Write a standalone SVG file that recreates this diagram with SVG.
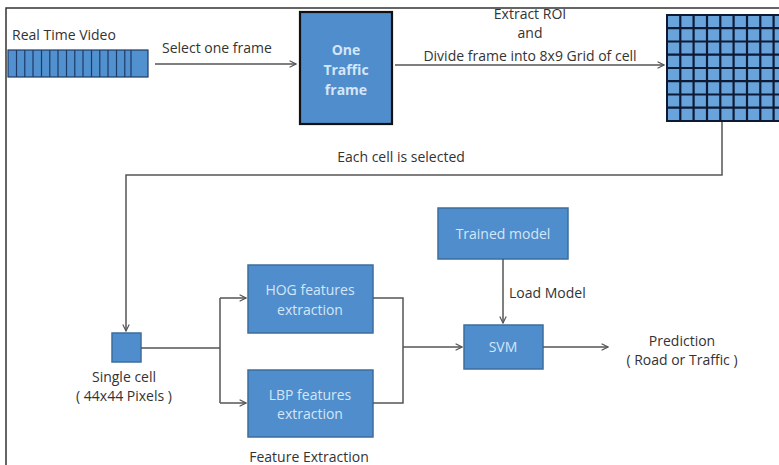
<svg xmlns="http://www.w3.org/2000/svg" width="779" height="465" viewBox="0 0 779 465">
  <style>
    .lbl { font-family: "Open Sans", "Liberation Sans", sans-serif; font-size: 14px; fill: #333; }
    .box { fill: #4f8dcc; stroke: #3d6e9f; stroke-width: 1.5; }
    .boxtxt { font-family: "Open Sans", "Liberation Sans", sans-serif; font-size: 14px; fill: #d4e6f7; text-anchor: middle; }
    .wire { fill: none; stroke: #555; stroke-width: 1.5; }
    .mid { text-anchor: middle; }
  </style>
  <defs>
    <marker id="arrow" viewBox="0 0 10 10" refX="9" refY="5" markerWidth="8" markerHeight="8" orient="auto" markerUnits="userSpaceOnUse">
      <path d="M1,1 L9,5 L1,9" fill="none" stroke="#555" stroke-width="1.5"/>
    </marker>
  </defs>

  <rect width="779" height="465" fill="#fff"/>
  <!-- outer frame -->
  <path d="M6,465 V8 H779" fill="none" stroke="#333" stroke-width="1.5"/>

  <g id="video">
    <text class="lbl" x="12" y="40">Real Time Video</text>
    <rect x="8" y="50" width="140" height="27" fill="#5291d0" stroke="#1f3a66" stroke-width="1.2"/>
    <path d="M16.5,50V77M24.8,50V77M33,50V77M41.5,50V77M49.8,50V77M58,50V77M66.5,50V77M74.8,50V77M83,50V77M91.5,50V77M99.8,50V77M108,50V77M116.5,50V77M124.8,50V77M131,50V77" stroke="#1f3a66" stroke-width="1.2"/>
  </g>

  <g id="frame">
    <rect x="300" y="12" width="92" height="112" fill="#4f8dcc" stroke="#111" stroke-width="2.2"/>
    <text class="boxtxt" x="346" y="55" font-weight="bold">One</text>
    <text class="boxtxt" x="346" y="75" font-weight="bold">Traffic</text>
    <text class="boxtxt" x="346" y="95" font-weight="bold">frame</text>
  </g>

  <g id="grid">
    <rect x="667" y="15" width="120" height="106" fill="#69a3dc" stroke="#0e1a33" stroke-width="2"/>
    <path d="M680.3,15V121M693.6,15V121M707,15V121M720.3,15V121M733.6,15V121M747,15V121M760.3,15V121M773.6,15V121" stroke="#0e1a33" stroke-width="2.2"/>
    <path d="M667,28.2H779M667,41.5H779M667,54.7H779M667,68H779M667,81.2H779M667,94.5H779M667,107.7H779" stroke="#0e1a33" stroke-width="2.2"/>
  </g>

  <g id="cell">
    <rect x="112" y="333" width="29" height="29" class="box"/>
    <text class="lbl mid" x="124" y="382">Single cell</text>
    <text class="lbl mid" x="124" y="401">( 44x44 Pixels )</text>
  </g>

  <g id="hog">
    <rect x="248" y="265" width="125" height="68" class="box"/>
    <text class="boxtxt" x="310" y="295">HOG features</text>
    <text class="boxtxt" x="310" y="315">extraction</text>
  </g>

  <g id="lbp">
    <rect x="248" y="370" width="125" height="67" class="box"/>
    <text class="boxtxt" x="310" y="400">LBP features</text>
    <text class="boxtxt" x="310" y="419">extraction</text>
  </g>

  <g id="trained">
    <rect x="438" y="208" width="130" height="51" class="box"/>
    <text class="boxtxt" x="503" y="239">Trained model</text>
  </g>

  <g id="svm">
    <rect x="464" y="325" width="79" height="44" class="box"/>
    <text class="boxtxt" x="503" y="352">SVM</text>
  </g>

  <g id="labels">
    <text class="lbl" x="162" y="53">Select one frame</text>
    <text class="lbl mid" x="530" y="19">Extract ROI</text>
    <text class="lbl mid" x="530" y="38">and</text>
    <text class="lbl mid" x="530" y="61">Divide frame into 8x9 Grid of cell</text>
    <text class="lbl mid" x="401" y="162">Each cell is selected</text>
    <text class="lbl" x="509" y="298">Load Model</text>
    <text class="lbl mid" x="682" y="346">Prediction</text>
    <text class="lbl mid" x="682" y="365">( Road or Traffic )</text>
    <text class="lbl mid" x="309" y="462">Feature Extraction</text>
  </g>

  <g id="connectors">
    <path class="wire" d="M155,64 H296" marker-end="url(#arrow)"/>
    <path class="wire" d="M395,65 H664" marker-end="url(#arrow)"/>
    <path class="wire" d="M722,122 V175 H126 V331" marker-end="url(#arrow)"/>
    <path class="wire" d="M141,348 H220"/>
    <path class="wire" d="M220,298 V403"/>
    <path class="wire" d="M220,298 H246" marker-end="url(#arrow)"/>
    <path class="wire" d="M220,403 H246" marker-end="url(#arrow)"/>
    <path class="wire" d="M373,298 H403 V403 H373"/>
    <path class="wire" d="M403,347 H462" marker-end="url(#arrow)"/>
    <path class="wire" d="M503,259 V323" marker-end="url(#arrow)"/>
    <path class="wire" d="M543,347 H608" marker-end="url(#arrow)"/>
  </g>
</svg>
